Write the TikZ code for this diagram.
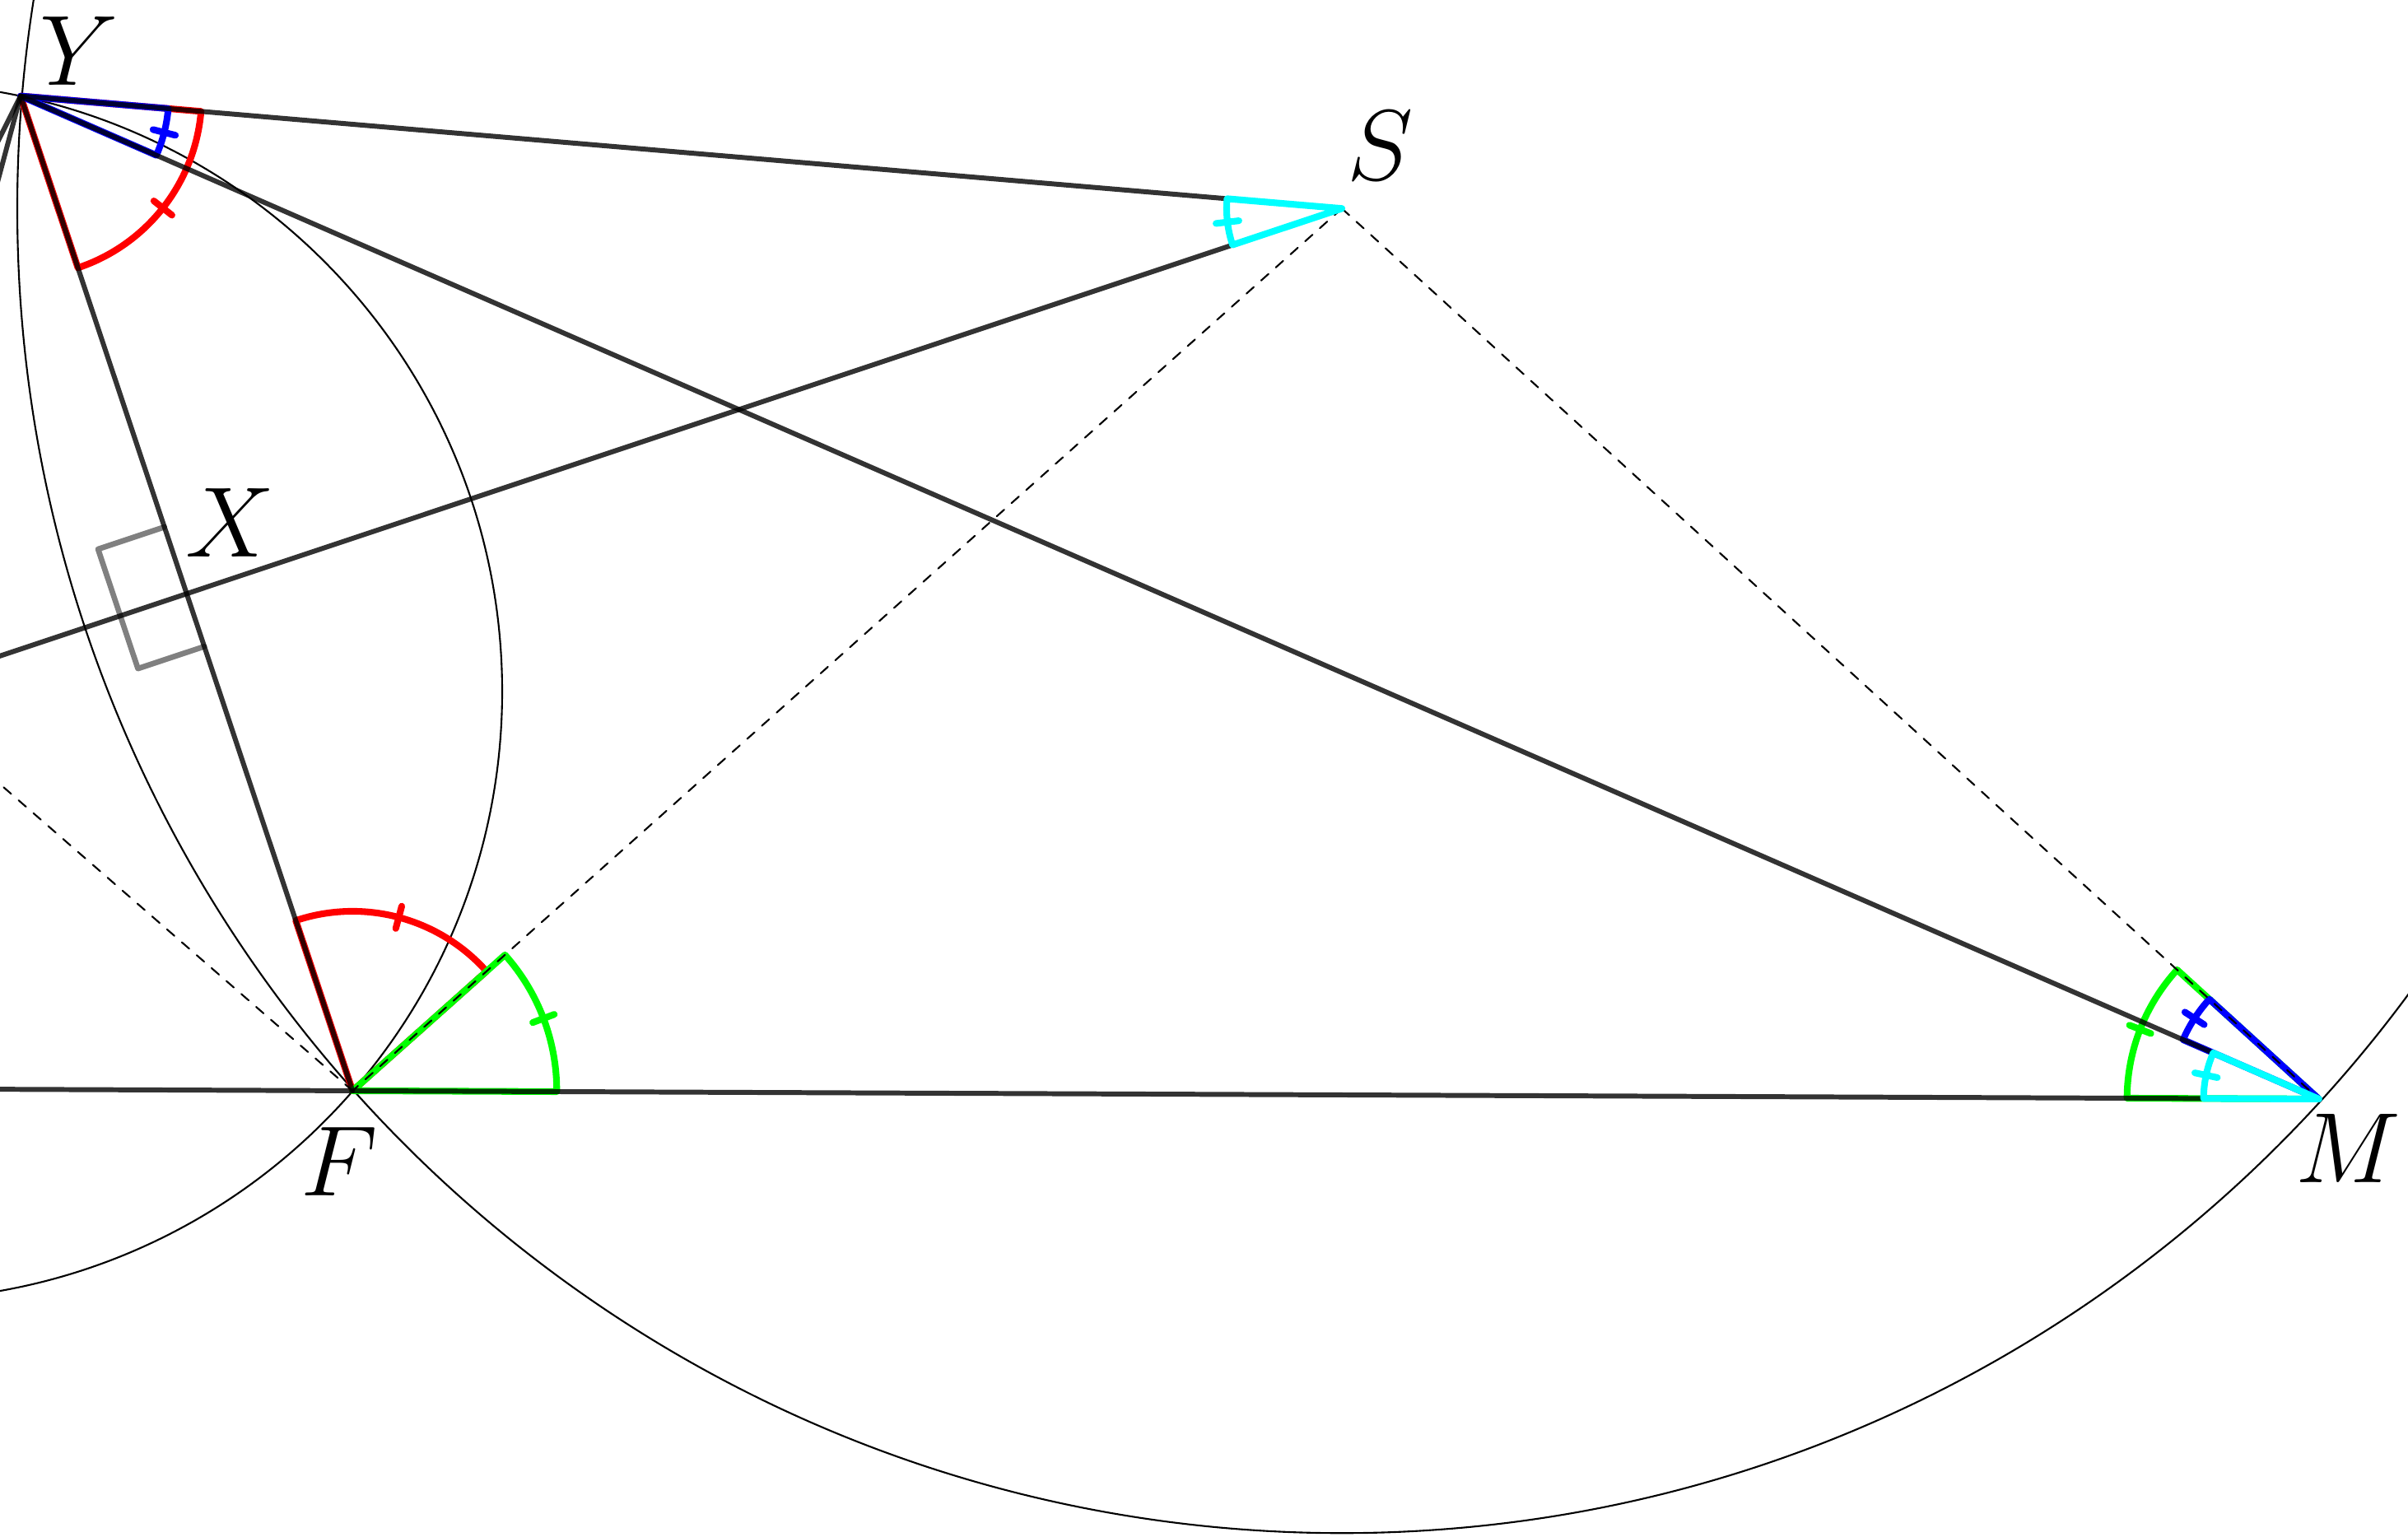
\documentclass[tikz,border=0pt]{standalone}
\usetikzlibrary{calc}
\definecolor{aqua}{rgb}{0,1,1}
\definecolor{lime}{rgb}{0,1,0}

% angle sector with one tick: vertex, from, to, radius, style
\newcommand\angmk[5]{%
  \draw[#5] let \p1=($(#2)-(#1)$), \p2=($(#3)-(#1)$),
    \n1={atan2(\y1,\x1)}, \n2={atan2(\y2,\x2)},
    \n3={ifthenelse((\n2)-(\n1)>180,(\n2)-360,ifthenelse((\n1)-(\n2)>180,(\n2)+360,\n2))},
    \n4={((\n1)+(\n3))/2} in
    (#1) -- ($(#1)+(\n1:#4)$) arc[start angle=\n1, end angle=\n3, radius=#4] -- cycle
    ($(#1)+(\n4:{#4-.14})$) -- ($(#1)+(\n4:{#4+.14})$);}

\begin{document}
\begin{tikzpicture}[scale=.5, line join=round, line cap=round, font=\fontsize{17.28}{21}\selectfont,
	seg/.style={line width=.85pt, opacity=.8},
	circ/.style={line width=.3pt},
	dashline/.style={line width=.3pt, dash pattern=on 1.7pt off 1.7pt},
	angmark/.style={line width=1.15pt},
	rightang/.style={line width=.95pt, gray}]
	\useasboundingbox (0,0) rectangle (29.25,18.67);
	\clip (0,0) rectangle (29.25,18.67);
	% points
	\coordinate (Y) at (.25,17.503);
	\coordinate (S) at (16.3,16.137);
	\coordinate (F) at (4.283,5.42);
	\coordinate (M) at (28.167,5.32);
	\coordinate (C) at (-1.294,10.27);
	\coordinate (X) at ($(Y)!.5!(F)$);
	\coordinate (U) at (-.5,16.003);
	\coordinate (V) at (-.5,14.703);
	\coordinate (L) at ($(M)!1.3!(F)$);
	% circles
	\draw[circ] (S) circle (16.09);
	\draw[circ] (C) circle (7.394);
	% equal angles
	\angmk{Y}{F}{S}{2.2}{angmark,red}
	\angmk{F}{S}{Y}{2.18}{angmark,red}
	\angmk{F}{M}{S}{2.48}{angmark,lime}
	\angmk{M}{S}{F}{2.33}{angmark,lime}
	\angmk{Y}{M}{S}{1.8}{angmark,blue}
	\angmk{M}{S}{Y}{1.8}{angmark,blue}
	% right angle at X
	\draw[rightang] ($(X)+(108.46:.85)$) -- ++(198.42:.85) -- ++(-71.54:1.53) -- ++(18.42:.85);
	\draw[dashline] (S) -- (F);
	\draw[dashline] (S) -- (M);
	\draw[dashline] (F) -- (C);
	\draw[seg] (Y) -- (S);
	\draw[seg] (Y) -- (M);
	\draw[seg] (Y) -- (F);
	\draw[seg] (M) -- (L);
	\draw[seg] (S) -- (C);
	\draw[seg] (Y) -- (U);
	\draw[seg] (Y) -- (V);
	\angmk{M}{Y}{F}{1.4}{angmark,aqua}
	\angmk{S}{Y}{X}{1.4}{angmark,aqua}
	% labels
	\node[inner sep=0] (lY) at ($(Y)+(.71,.55)$) {$Y$};
	\node[inner sep=0] (lS) at ($(S)+(.47,.76)$) {$S$};
	\node[inner sep=0] (lX) at ($(X)+(.53,.86)$) {$X$};
	\node[inner sep=0] (lF) at ($(F)+(-.16,-.86)$) {$F$};
	\node[inner sep=0] (lM) at ($(M)+(.36,-.6)$) {$M$};
\end{tikzpicture}
\end{document}
